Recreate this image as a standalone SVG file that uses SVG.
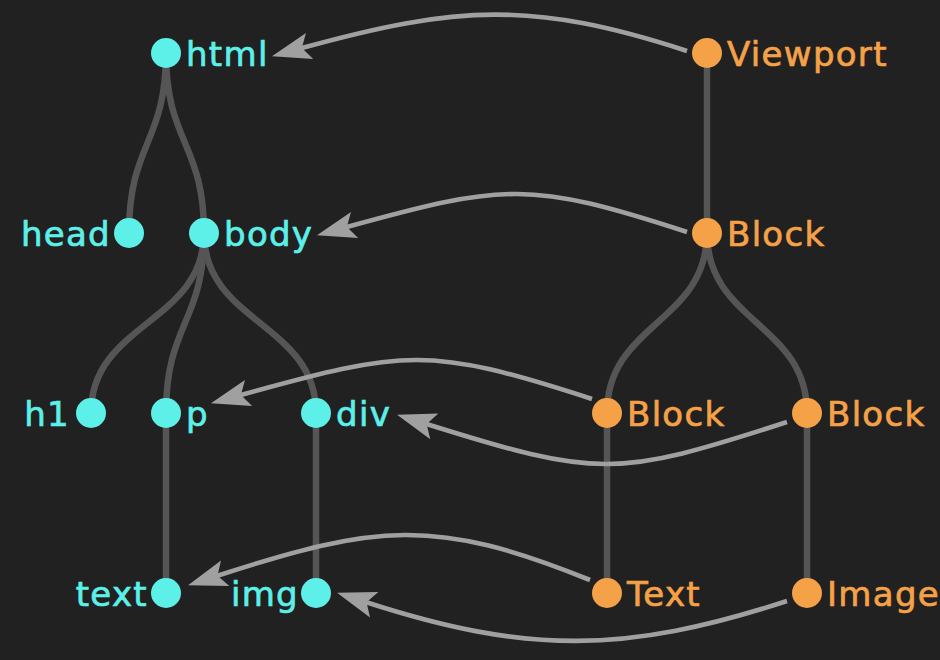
<svg xmlns="http://www.w3.org/2000/svg" width="940" height="660" viewBox="0 0 940 660">
<style>
.bg{fill:#212121}
.tree{fill:none;stroke:#555555;stroke-width:6.5}
.map{fill:none;stroke:#a0a0a0;stroke-width:4.6;marker-end:url(#ah)}
.dom circle{fill:#5cf0e9}
.dom text{fill:#5cf0e9;stroke:#5cf0e9}
.lay circle{fill:#f5a148}
.lay text{fill:#f5a148;stroke:#f5a148}
text{font-family:"DejaVu Sans","Liberation Sans",sans-serif;font-size:34px;letter-spacing:1.3px;stroke-width:0.7px}
.l{text-anchor:end}
</style>
<defs>
<marker id="ah" markerUnits="userSpaceOnUse" viewBox="-10 -15 42 30" markerWidth="42" markerHeight="30" refX="0" refY="0" orient="auto" overflow="visible">
<path d="M30,0 L-9,-13.5 L-1,0 L-9,13.5 Z" fill="#a0a0a0"/>
</marker>
</defs>
<rect class="bg" x="0" y="0" width="940" height="660"/>
<g id="connectors">
<path class="tree" d="M166,53 C166,143 129,143 129,233"/>
<path class="tree" d="M166,53 C166,143 204,143 204,233"/>
<path class="tree" d="M204,233 C204,323 91,323 91,413"/>
<path class="tree" d="M204,233 C204,323 166,323 166,413"/>
<path class="tree" d="M204,233 C204,323 316,323 316,413"/>
<path class="tree" d="M166,413 V593"/>
<path class="tree" d="M316,413 V593"/>
<path class="tree" d="M707,53 V233"/>
<path class="tree" d="M707,233 C707,323 607,323 607,413"/>
<path class="tree" d="M707,233 C707,323 807,323 807,413"/>
<path class="tree" d="M607,413 V593"/>
<path class="tree" d="M807,413 V593"/>
<path class="map" d="M687,51 C532.9,0.9 457.1,5 300.9,48.3"/>
<path class="map" d="M687,232 C530.1,181 505,183.2 345.9,227.3"/>
<path class="map" d="M592,399 C428.4,345.9 405.7,349.4 239.9,395.3"/>
<path class="map" d="M787,422 C615.3,477.8 597.9,477.7 425.7,423.7"/>
<path class="map" d="M590,580 C434.6,517.1 376,524.2 216.6,576"/>
<path class="map" d="M787,601 C625.3,653.5 527.3,654.5 365.6,602"/>
</g>
<g class="dom">
<g id="html"><circle cx="166" cy="53" r="15"/><text x="186" y="65.5">html</text></g>
<g id="head"><circle cx="129" cy="233" r="15"/><text class="l" x="111" y="245.5">head</text></g>
<g id="body"><circle cx="204" cy="233" r="15"/><text x="224" y="245.5">body</text></g>
<g id="h1"><circle cx="91" cy="413" r="15"/><text class="l" x="70" y="425.5">h1</text></g>
<g id="p"><circle cx="166" cy="413" r="15"/><text x="186" y="425.5">p</text></g>
<g id="div"><circle cx="316" cy="413" r="15"/><text x="336" y="425.5">div</text></g>
<g id="text"><circle cx="166" cy="593" r="15"/><text class="l" x="148" y="605.5">text</text></g>
<g id="img"><circle cx="316" cy="593" r="15"/><text class="l" x="299" y="605.5">img</text></g>
</g>
<g class="lay">
<g id="viewport"><circle cx="707" cy="53" r="15"/><text x="727" y="65.5">Viewport</text></g>
<g id="block-root"><circle cx="707" cy="233" r="15"/><text x="727" y="245.5">Block</text></g>
<g id="block-left"><circle cx="607" cy="413" r="15"/><text x="627" y="425.5">Block</text></g>
<g id="block-right"><circle cx="807" cy="413" r="15"/><text x="827" y="425.5">Block</text></g>
<g id="text-box"><circle cx="607" cy="593" r="15"/><text x="627" y="605.5">Text</text></g>
<g id="image-box"><circle cx="807" cy="593" r="15"/><text x="827" y="605.5">Image</text></g>
</g>
</svg>
